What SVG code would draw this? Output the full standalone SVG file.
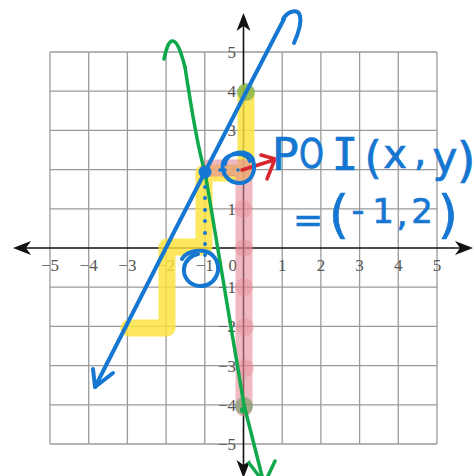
<svg xmlns="http://www.w3.org/2000/svg" width="474" height="476" viewBox="0 0 474 476">
<style>
.grid line{stroke:#9a9a9a;stroke-width:1.3}
.tick{font-family:"Liberation Serif","DejaVu Serif",serif;font-size:17px;fill:#555}
.hand{font-family:"DejaVu Sans","Liberation Sans",sans-serif;fill:#1577d1;stroke:#1577d1;stroke-width:0.7}
.blue{fill:none;stroke:#1577d1;stroke-width:4;stroke-linecap:round;stroke-linejoin:round}
.green{fill:none;stroke:#0fa84b;stroke-width:3.5;stroke-linecap:round;stroke-linejoin:round}
.red{fill:none;stroke:#d8262f;stroke-width:3.5;stroke-linecap:round;stroke-linejoin:round}
</style>
<rect width="474" height="476" fill="#fff"/>
<g id="grid" class="grid">
<line x1="50" y1="52" x2="50" y2="444"/><line x1="88.7" y1="52" x2="88.7" y2="444"/><line x1="127.4" y1="52" x2="127.4" y2="444"/><line x1="166.1" y1="52" x2="166.1" y2="444"/><line x1="204.8" y1="52" x2="204.8" y2="444"/><line x1="282.2" y1="52" x2="282.2" y2="444"/><line x1="320.9" y1="52" x2="320.9" y2="444"/><line x1="359.6" y1="52" x2="359.6" y2="444"/><line x1="398.3" y1="52" x2="398.3" y2="444"/><line x1="437" y1="52" x2="437" y2="444"/>
<line x1="50" y1="52" x2="437" y2="52"/><line x1="50" y1="91.2" x2="437" y2="91.2"/><line x1="50" y1="130.4" x2="437" y2="130.4"/><line x1="50" y1="169.6" x2="437" y2="169.6"/><line x1="50" y1="208.8" x2="437" y2="208.8"/><line x1="50" y1="287.2" x2="437" y2="287.2"/><line x1="50" y1="326.4" x2="437" y2="326.4"/><line x1="50" y1="365.6" x2="437" y2="365.6"/><line x1="50" y1="404.8" x2="437" y2="404.8"/><line x1="50" y1="444" x2="437" y2="444"/>
</g>
<g id="axes">
<line x1="20" y1="248" x2="466" y2="248" stroke="#111" stroke-width="1.6"/>
<line x1="243.5" y1="20" x2="243.5" y2="470" stroke="#111" stroke-width="1.6"/>
<path d="M13,248 L31,241 L26,248 L31,255 Z" fill="#111"/>
<path d="M473,248 L455,241 L460,248 L455,255 Z" fill="#111"/>
<path d="M243.5,13 L236.5,31 L243.5,26 L250.5,31 Z" fill="#111"/>
<path d="M243.5,478 L236.5,460 L243.5,465 L250.5,460 Z" fill="#111"/>
</g>
<g id="tick-labels" class="tick">
<text x="59" y="271" text-anchor="end">−5</text>
<text x="97.7" y="271" text-anchor="end">−4</text>
<text x="136.4" y="271" text-anchor="end">−3</text>
<text x="175.1" y="271" text-anchor="end">−2</text>
<text x="213.8" y="271" text-anchor="end">−1</text>
<text x="237" y="271" text-anchor="end">0</text>
<text x="282.2" y="271" text-anchor="middle">1</text>
<text x="320.9" y="271" text-anchor="middle">2</text>
<text x="359.6" y="271" text-anchor="middle">3</text>
<text x="398.3" y="271" text-anchor="middle">4</text>
<text x="437" y="271" text-anchor="middle">5</text>
<text x="236" y="58" text-anchor="end">5</text>
<text x="236" y="97.2" text-anchor="end">4</text>
<text x="236" y="136.4" text-anchor="end">3</text>
<text x="236" y="175.6" text-anchor="end">2</text>
<text x="236" y="214.8" text-anchor="end">1</text>
<text x="236" y="293.2" text-anchor="end">−1</text>
<text x="236" y="332.4" text-anchor="end">−2</text>
<text x="236" y="371.6" text-anchor="end">−3</text>
<text x="236" y="410.8" text-anchor="end">−4</text>
<text x="236" y="450" text-anchor="end">−5</text>
</g>
<g id="highlights">
<path d="M246,93 L246,173 L204,173 L204,247 L167,247 L167,328 L129,328" fill="none" stroke="#fde23a" stroke-opacity="0.82" stroke-width="17" stroke-linecap="round" stroke-linejoin="round"/>
<path d="M209,168 L244,168 L244,408" fill="none" stroke="#e38a96" stroke-opacity="0.6" stroke-width="17" stroke-linecap="round" stroke-linejoin="round"/>
<g fill="#e07884" fill-opacity="0.3">
<circle cx="243" cy="209" r="9"/><circle cx="244" cy="248" r="9"/><circle cx="244" cy="287" r="9"/><circle cx="245" cy="327" r="9"/><circle cx="245" cy="368" r="9"/>
</g>
<circle cx="246" cy="92" r="9" fill="#4f9e45" fill-opacity="0.55"/>
<circle cx="244" cy="406" r="9" fill="#5f9a56" fill-opacity="0.55"/>
</g>
<g id="connectors">
<path id="green-line" class="green" d="M185,67 C190,100 198,150 205,172 L244,405 L262,476"/>
<path class="green" d="M164,59 C166,50 168,42 172,41 C177,40 181,52 185,67"/>
<path class="green" d="M249,463 L259,476 M275,461 L268,476"/>
<circle cx="243" cy="410" r="3" fill="#0fa84b"/>
<path id="blue-line" class="blue" d="M95,387 L172,236 L205,172 L242,100 L284,19"/>
<path class="blue" d="M93,369 L95,387 L113,373"/>
<path class="blue" d="M283,19 C288,11 298,8 300,16 C302,24 298,34 294,43"/>
<path id="red-arrow" class="red" d="M242,170 L274,160 M261,155 L275,159 L267,179"/>
</g>
<g id="poi-markers">
<circle cx="205" cy="172" r="6.5" fill="#1577d1"/>
<g fill="#1577d1">
<circle cx="205" cy="187" r="2"/><circle cx="205" cy="198" r="2"/><circle cx="205" cy="210" r="2"/><circle cx="205" cy="221" r="2"/><circle cx="205" cy="233" r="2"/><circle cx="205" cy="244" r="2"/><circle cx="205" cy="255" r="2"/>
<circle cx="220" cy="170" r="1.8"/><circle cx="225" cy="170" r="1.8"/><circle cx="238" cy="170" r="1.8"/>
</g>
<path class="blue" stroke-width="3.5" d="M182,259 C186,252 196,250 204,251 C214,253 219,262 218,271 C216,281 208,287 199,286 C189,285 183,277 184,268 C185,261 191,255 198,254"/>
<path class="blue" stroke-width="3.5" d="M225,164 C226,151 249,148 253,160 C257,174 249,184 238,183 C227,182 221,172 223,163 C226,152 246,151 250,161"/>
</g>
<g id="label-poi" class="hand">
<text x="272" y="170" font-size="44">P</text>
<text x="299" y="168" font-size="40" textLength="25" lengthAdjust="spacingAndGlyphs">O</text>
<text x="345" y="170" font-size="44" text-anchor="middle" font-family="DejaVu Sans Mono, monospace">I</text>
<text x="373" y="173" font-size="44" text-anchor="middle">(</text>
<text x="395" y="168" font-size="40" text-anchor="middle">x</text>
<text x="420" y="165" font-size="40" text-anchor="middle">,</text>
<text x="445" y="172" font-size="42" text-anchor="middle">y</text>
<text x="466" y="177" font-size="48" text-anchor="middle">)</text>
</g>
<g id="label-value" class="hand">
<text x="308" y="232" font-size="36" text-anchor="middle">=</text>
<text x="339" y="232" font-size="52" text-anchor="middle">(</text>
<text x="358" y="222" font-size="36" text-anchor="middle">-</text>
<text x="383" y="223" font-size="34" text-anchor="middle">1</text>
<text x="402" y="226" font-size="36" text-anchor="middle">,</text>
<text x="422" y="223" font-size="34" text-anchor="middle">2</text>
<text x="448" y="232" font-size="52" text-anchor="middle">)</text>
</g>
</svg>
